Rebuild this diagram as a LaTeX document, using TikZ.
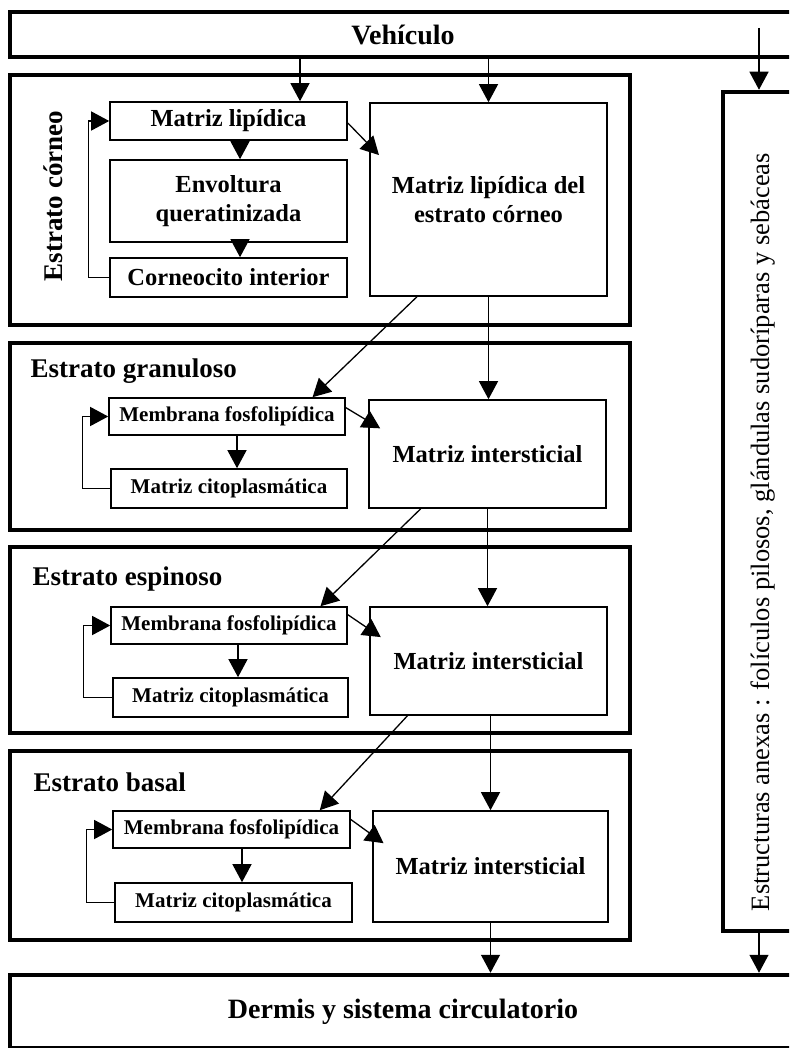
\documentclass[tikz,border=0pt]{standalone}
\usepackage{fontspec}
\setmainfont{Liberation Serif}
\usetikzlibrary{arrows.meta,calc}

\tikzset{every picture/.style={line width=1.2pt}}
\tikzset{
  layer/.style={draw, line width=4.5pt, inner sep=0pt},
  cell/.style={draw, line width=1.6pt, inner sep=2pt, align=center, font=\bfseries\fontsize{21}{24}\selectfont},
  bigcell/.style={cell, font=\bfseries\fontsize{24.5}{29}\selectfont},
  heading/.style={inner sep=0pt, font=\bfseries\fontsize{27}{30}\selectfont},
  flow/.style={-{Triangle[length=18pt,width=19pt]}, line width=1.3pt},
}

\begin{document}
\begin{tikzpicture}[x=1pt,y=1pt,yscale=-1,xscale=1]
\clip (0,0) rectangle (789,1048);

%Layers
\node[layer, minimum width=786pt, minimum height=45pt, font=\bfseries\fontsize{28}{30}\selectfont] (veh) at (403,34.5) {Vehículo};
\node[layer, minimum width=620pt, minimum height=250pt] (corneo) at (320,200) {};
\node[layer, minimum width=620pt, minimum height=187pt] (gran) at (320,436.5) {};
\node[layer, minimum width=620pt, minimum height=186pt] (espi) at (320,640) {};
\node[layer, minimum width=620pt, minimum height=189pt] (basal) at (320,845.5) {};
\node[layer, minimum width=786pt, minimum height=73pt, font=\bfseries\fontsize{28}{30}\selectfont] (dermis) at (403,1011.5) {Dermis y sistema circulatorio};
\node[layer, minimum width=77pt, minimum height=839pt] (anexas) at (761.5,511.5) {};
\node[rotate=90, anchor=base, inner sep=0pt, font=\fontsize{26.5}{30}\selectfont] (anexastxt) at (769,532) {Estructuras anexas : folículos pilosos, glándulas sudoríparas y sebáceas};

%Headings
\node[heading, rotate=90, anchor=base] (tcorneo) at (62,196) {Estrato córneo};
\node[heading, anchor=base west] (tgran) at (30,377) {Estrato granuloso};
\node[heading, anchor=base west] (tespi) at (32,585) {Estrato espinoso};
\node[heading, anchor=base west] (tbasal) at (33,791) {Estrato basal};

%Estrato corneo
\node[bigcell, minimum width=237pt, minimum height=38pt] (ml) at (228.5,121) {Matriz lipídica};
\node[bigcell, minimum width=237pt, minimum height=82pt] (env) at (228.5,201) {Envoltura\\queratinizada};
\node[bigcell, minimum width=237pt, minimum height=39pt] (cor) at (228.5,277.5) {Corneocito interior};
\node[bigcell, minimum width=237pt, minimum height=193pt] (mlec) at (488.5,199.5) {Matriz lipídica del\\estrato córneo};

%Estrato granuloso
\node[cell, minimum width=236pt, minimum height=37pt] (mfg) at (227,416.5) {Membrana fosfolipídica};
\node[cell, minimum width=236pt, minimum height=39pt] (mcg) at (229,488.5) {Matriz citoplasmática};
\node[bigcell, minimum width=237pt, minimum height=108pt] (mig) at (487.5,454) {Matriz intersticial};

%Estrato espinoso
\node[cell, minimum width=236pt, minimum height=37pt] (mfe) at (229,625.5) {Membrana fosfolipídica};
\node[cell, minimum width=235pt, minimum height=39pt] (mce) at (230.5,697.5) {Matriz citoplasmática};
\node[bigcell, minimum width=237pt, minimum height=108pt] (mie) at (488.5,661) {Matriz intersticial};

%Estrato basal
\node[cell, minimum width=237pt, minimum height=37pt] (mfb) at (231.5,829.5) {Membrana fosfolipídica};
\node[cell, minimum width=237pt, minimum height=39pt] (mcb) at (233.5,902.5) {Matriz citoplasmática};
\node[bigcell, minimum width=235pt, minimum height=111pt] (mib) at (490.5,866.5) {Matriz intersticial};

%Guide coordinates
\coordinate (xv) at (300,0);
\coordinate (xs) at (759,28);
\coordinate (xc) at (240,0);
\coordinate (xg) at (237,0);
\coordinate (xe) at (238,0);
\coordinate (xb) at (242,0);

%Vehiculo arrows
\draw[flow] (xv |- veh.south) -- (xv |- ml.north);
\draw[flow] (veh.south -| mlec.north) -- (mlec.north);
\draw[flow] (xs) -- (xs |- anexas.north);

%Corneo arrows
\draw[flow] (xc |- ml.south) -- (xc |- env.north);
\draw[flow] (xc |- env.south) -- (xc |- cor.north);
\draw[flow] (cor.west) -- ++(-21,0) |- (ml.west);
\draw[flow, shorten >=-14pt] ($(ml.north east)!0.55!(ml.south east)$) -- ($(mlec.north west)!0.22!(mlec.south west)$);

%Granuloso arrows
\draw[flow] ($(mlec.south west)!0.2!(mlec.south east)$) -- ($(mfg.north west)!0.86!(mfg.north east)$);
\draw[flow] (mlec.south) -- (mlec.south |- mig.north);
\draw[flow] (xg |- mfg.south) -- (xg |- mcg.north);
\draw[flow] (mcg.west) -- ++(-28,0) |- (mfg.west);
\draw[flow, shorten >=-14pt] ($(mfg.north east)!0.27!(mfg.south east)$) -- ($(mig.north west)!0.2!(mig.south west)$);

%Espinoso arrows
\draw[flow] ($(mig.south west)!0.22!(mig.south east)$) -- ($(mfe.north west)!0.885!(mfe.north east)$);
\draw[flow] (mig.south) -- (mig.south |- mie.north);
\draw[flow] (xe |- mfe.south) -- (xe |- mce.north);
\draw[flow] (mce.west) -- ++(-29,0) |- (mfe.west);
\draw[flow, shorten >=-14pt] ($(mfe.north east)!0.22!(mfe.south east)$) -- ($(mie.north west)!0.21!(mie.south west)$);

%Basal arrows
\draw[flow] ($(mie.south west)!0.16!(mie.south east)$) -- ($(mfb.north west)!0.87!(mfb.north east)$);
\draw[flow] (mib.north |- mie.south) -- (mib.north);
\draw[flow] (xb |- mfb.south) -- (xb |- mcb.north);
\draw[flow] (mcb.west) -- ++(-28,0) |- (mfb.west);
\draw[flow, shorten >=-14pt] ($(mfb.north east)!0.24!(mfb.south east)$) -- ($(mib.north west)!0.22!(mib.south west)$);

%Dermis arrows
\draw[flow] (mib.south) -- (mib.south |- dermis.north);
\draw[flow] (xs |- anexas.south) -- (xs |- dermis.north);

\end{tikzpicture}
\end{document}
